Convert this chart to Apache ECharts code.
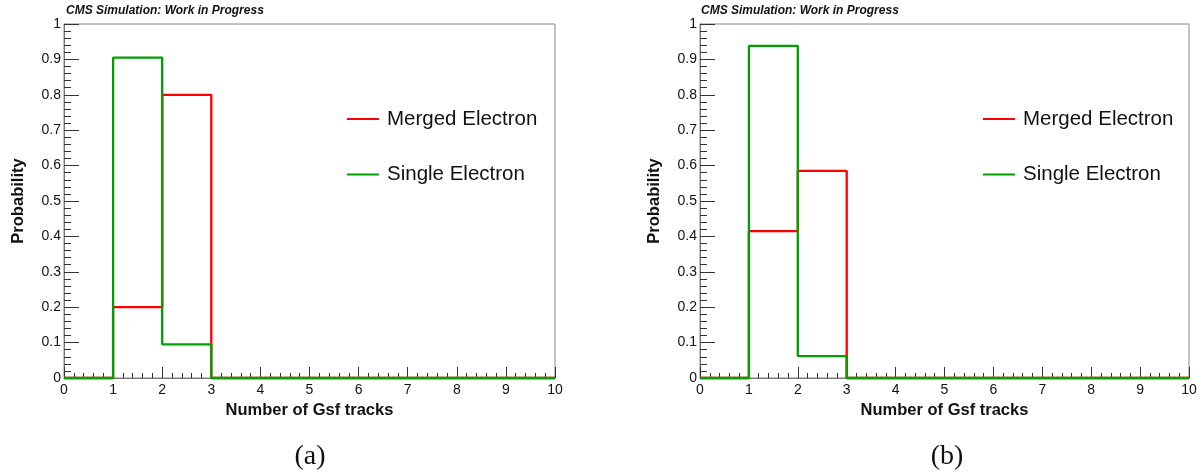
<!DOCTYPE html>
<html>
<head>
<meta charset="utf-8">
<script src="https://cdn.jsdelivr.net/npm/echarts@6/dist/echarts.min.js"></script>
<style>
  html, body { margin: 0; padding: 0; background: #fff; }
  #chart { width: 1204px; height: 473px; }
</style>
</head>
<body>
<div id="chart"></div>
<script>
// Bin edges of the "Number of Gsf tracks" histograms (bin width 1, range 0-10)
const binEdges = [0, 1, 2, 3, 4, 5, 6, 7, 8, 9, 10];

// Panel (a): normalised bin contents
const mergedA = [0, 0.200, 0.800, 0, 0, 0, 0, 0, 0, 0];
const singleA = [0, 0.905, 0.095, 0, 0, 0, 0, 0, 0, 0];

// Panel (b): normalised bin contents
const mergedB = [0, 0.415, 0.585, 0, 0, 0, 0, 0, 0, 0];
const singleB = [0, 0.938, 0.062, 0, 0, 0, 0, 0, 0, 0];

const seriesNames = ['Merged Electron', 'Single Electron'];
const panelTags = ['(a)', '(b)'];
const headerText = 'CMS Simulation: Work in Progress';
const xTitle = 'Number of Gsf tracks';
const yTitle = 'Probability';

const RED = '#ff0000';
const GREEN = '#009e00';
const SANS = '"Liberation Sans", Arial, Helvetica, sans-serif';
const SERIF = '"Liberation Serif", "DejaVu Serif", serif';

// Turn bin contents into step-line points: one point per lower bin edge,
// plus the upper edge of the last bin.
function histPoints(values) {
  const pts = values.map((v, i) => [binEdges[i], v]);
  pts.push([binEdges[values.length], values[values.length - 1]]);
  return pts;
}

const grids = [
  { left: 64, top: 24, width: 491, height: 354 },
  { left: 700, top: 24, width: 489, height: 354 }
];

function xAxisFor(i) {
  return {
    type: 'value', gridIndex: i, min: 0, max: 10, interval: 1,
    axisLine: { show: true, onZero: false, lineStyle: { color: '#777', width: 1 } },
    axisTick: { show: true, inside: true, length: 11, lineStyle: { color: '#333' } },
    minorTick: { show: true, splitNumber: 5, length: 5, lineStyle: { color: '#333' } },
    splitLine: { show: false },
    axisLabel: { color: '#111', fontFamily: SANS, fontSize: 14, margin: 5 },
    name: xTitle, nameLocation: 'middle', nameGap: 23,
    nameTextStyle: { color: '#111', fontFamily: SANS, fontSize: 16.5, fontWeight: 'bold' }
  };
}

function yAxisFor(i) {
  return {
    type: 'value', gridIndex: i, min: 0, max: 1, interval: 0.1,
    axisLine: { show: true, lineStyle: { color: '#777', width: 1 } },
    axisTick: { show: true, inside: true, length: 15, lineStyle: { color: '#333' } },
    minorTick: { show: true, splitNumber: 5, length: 7, lineStyle: { color: '#333' } },
    splitLine: { show: false },
    axisLabel: { color: '#111', fontFamily: SANS, fontSize: 14, margin: 3 },
    name: yTitle, nameLocation: 'middle', nameRotate: 90, nameGap: 37,
    nameTextStyle: { color: '#111', fontFamily: SANS, fontSize: 16.5, fontWeight: 'bold' }
  };
}

function histSeries(name, values, color, i) {
  return {
    type: 'line', name: name, step: 'end', symbol: 'none',
    xAxisIndex: i, yAxisIndex: i,
    data: histPoints(values),
    color: color,
    itemStyle: { color: color },
    lineStyle: { color: color, width: 2.3 },
    clip: false,
    animation: false
  };
}

function legendFor(left) {
  return {
    data: seriesNames, orient: 'vertical', left: left, top: 108.5, padding: 0,
    icon: 'rect', itemWidth: 32, itemHeight: 2, itemGap: 34.5,
    selectedMode: false,
    textStyle: { color: '#111', fontFamily: SANS, fontSize: 20.5, padding: [0, 0, 0, 3] }
  };
}

const headerStyle = { fontFamily: SANS, fontSize: 12, fontWeight: 'bold', fontStyle: 'italic', color: '#111' };
const tagStyle = { fontFamily: SERIF, fontSize: 28, fontWeight: 'normal', color: '#111' };

const chart = echarts.init(document.getElementById('chart'), null, { renderer: 'canvas' });
chart.setOption({
  backgroundColor: '#fff',
  animation: false,
  title: [
    { text: headerText, left: 66, top: 5, padding: 0, textStyle: headerStyle },
    { text: headerText, left: 701, top: 5, padding: 0, textStyle: headerStyle },
    { text: panelTags[0], left: 310, top: 443, padding: 0, textAlign: 'center', textStyle: tagStyle },
    { text: panelTags[1], left: 947, top: 443, padding: 0, textAlign: 'center', textStyle: tagStyle }
  ],
  grid: grids.map(g => Object.assign({ show: true, borderColor: '#888', borderWidth: 1, backgroundColor: 'transparent' }, g)),
  xAxis: [xAxisFor(0), xAxisFor(1)],
  yAxis: [yAxisFor(0), yAxisFor(1)],
  legend: [legendFor(347), legendFor(983)],
  series: [
    histSeries(seriesNames[0], mergedA, RED, 0),
    histSeries(seriesNames[1], singleA, GREEN, 0),
    histSeries(seriesNames[0], mergedB, RED, 1),
    histSeries(seriesNames[1], singleB, GREEN, 1)
  ]
});
</script>
</body>
</html>
